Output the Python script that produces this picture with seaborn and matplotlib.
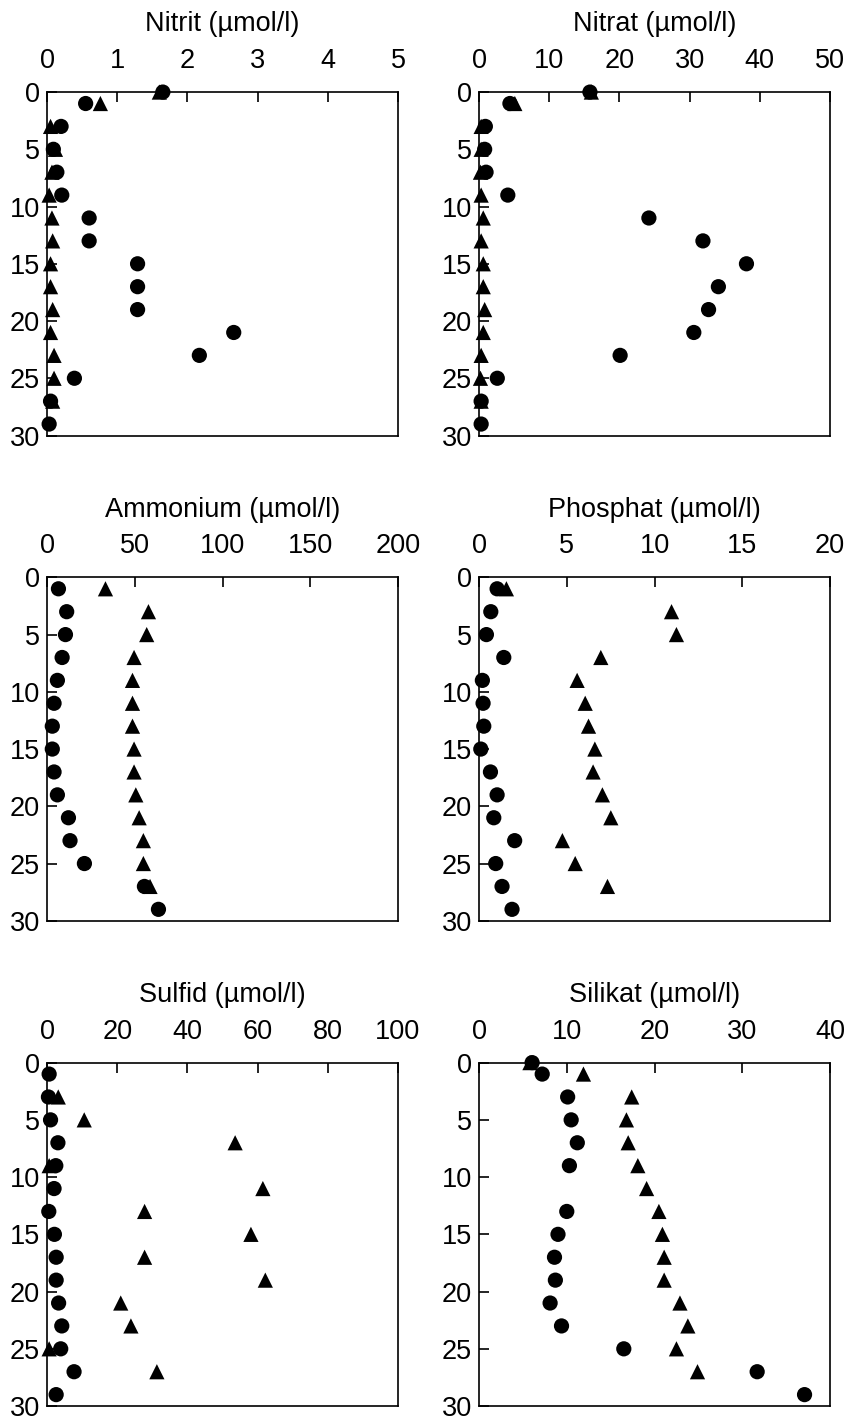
import numpy as np
import pandas as pd
import matplotlib
matplotlib.use("Agg")
import matplotlib.pyplot as plt
import seaborn as sns

nan = np.nan

depth = [0, 1, 3, 5, 7, 9, 11, 13, 15, 17, 19, 21, 23, 25, 27, 29]

nitrit_c = [1.65, 0.55, 0.2, 0.09, 0.14, 0.21, 0.6, 0.6, 1.29, 1.29, 1.29, 2.66, 2.17, 0.39, 0.05, 0.03]
nitrit_t = [1.6, 0.76, 0.05, 0.12, 0.07, 0.03, 0.07, 0.08, 0.05, 0.05, 0.08, 0.05, 0.1, 0.1, 0.08, nan]

nitrat_c = [15.8, 4.4, 0.9, 0.8, 1.0, 4.1, 24.2, 31.9, 38.1, 34.1, 32.7, 30.6, 20.1, 2.6, 0.3, 0.3]
nitrat_t = [16.0, 5.1, 0.3, 0.3, 0.2, 0.3, 0.6, 0.3, 0.6, 0.6, 0.8, 0.6, 0.3, 0.2, 0.3, nan]

ammonium_c = [nan, 6.5, 11.2, 10.5, 8.6, 5.9, 4.0, 3.0, 3.0, 4.0, 5.9, 12.2, 13.1, 21.3, 55.5, 63.5]
ammonium_t = [nan, 33.3, 57.8, 56.8, 49.6, 48.7, 48.7, 48.7, 49.6, 49.6, 50.6, 52.5, 54.9, 54.9, 58.7, nan]

phosphat_c = [nan, 1.03, 0.67, 0.42, 1.41, 0.19, 0.23, 0.27, 0.1, 0.65, 1.03, 0.84, 2.03, 0.95, 1.31, 1.88]
phosphat_t = [nan, 1.56, 10.97, 11.25, 6.94, 5.59, 6.05, 6.24, 6.6, 6.5, 7.03, 7.51, 4.75, 5.48, 7.32, nan]

sulfid_c = [nan, 0.6, 0.4, 1.0, 3.1, 2.5, 2.0, 0.5, 2.1, 2.6, 2.6, 3.3, 4.2, 3.9, 7.7, 2.6]
sulfid_t = [nan, nan, 3.2, 10.6, 53.6, 0.6, 61.5, 27.8, 58.1, 27.8, 62.2, 21.0, 23.9, 0.6, 31.3, nan]

silikat_c = [6.05, 7.2, 10.1, 10.5, 11.2, 10.3, nan, 10.0, 9.0, 8.6, 8.7, 8.1, 9.4, 16.5, 31.7, 37.1]
silikat_t = [5.8, 11.9, 17.4, 16.8, 17.0, 18.1, 19.1, 20.5, 20.9, 21.1, 21.1, 22.9, 23.8, 22.5, 24.9, nan]

titles = ["Nitrit (µmol/l)", "Nitrat (µmol/l)", "Ammonium (µmol/l)",
          "Phosphat (µmol/l)", "Sulfid (µmol/l)", "Silikat (µmol/l)"]
circles = [nitrit_c, nitrat_c, ammonium_c, phosphat_c, sulfid_c, silikat_c]
triangles = [nitrit_t, nitrat_t, ammonium_t, phosphat_t, sulfid_t, silikat_t]
xmax = [5, 50, 200, 20, 100, 40]
xstep = [1, 10, 50, 5, 20, 10]

sns.set_style("ticks")
plt.rcParams['font.family'] = ['Liberation Sans', 'DejaVu Sans']
plt.rcParams['font.size'] = 19.5
for key in ['text.color', 'axes.labelcolor', 'xtick.color', 'ytick.color', 'axes.edgecolor']:
    plt.rcParams[key] = 'black'

fig, axes = plt.subplots(3, 2, figsize=(8.49, 14.23), dpi=100)
fig.subplots_adjust(left=0.0554, right=0.9776, top=0.9353, bottom=0.0119,
                    wspace=0.231, hspace=0.413)

for i, ax in enumerate(axes.flat):
    # triangles first so circles end up on top
    df = pd.concat([
        pd.DataFrame({"depth": depth, "value": triangles[i], "kind": "t"}),
        pd.DataFrame({"depth": depth, "value": circles[i], "kind": "c"}),
    ]).dropna()
    sns.scatterplot(data=df, x="value", y="depth", style="kind",
                    markers={"c": "o", "t": "^"}, color="black", s=120,
                    linewidth=0, legend=False, ax=ax, clip_on=False)
    ax.set_xlim(0, xmax[i])
    ax.set_ylim(30, 0)
    ax.set_xticks(np.arange(0, xmax[i] + xstep[i], xstep[i]))
    ax.set_yticks(np.arange(0, 31, 5))
    ax.xaxis.tick_top()
    ax.xaxis.set_label_position('top')
    ax.set_xlabel(titles[i], labelpad=12)
    ax.set_ylabel("")
    ax.tick_params(axis='x', direction='in', length=7, width=1.2, pad=13)
    ax.tick_params(axis='y', direction='in', length=7, width=1.2, pad=5)
    for sp in ax.spines.values():
        sp.set_visible(True)
        sp.set_linewidth(1.2)
        sp.set_color("black")

fig.savefig("out.png", dpi=100)
